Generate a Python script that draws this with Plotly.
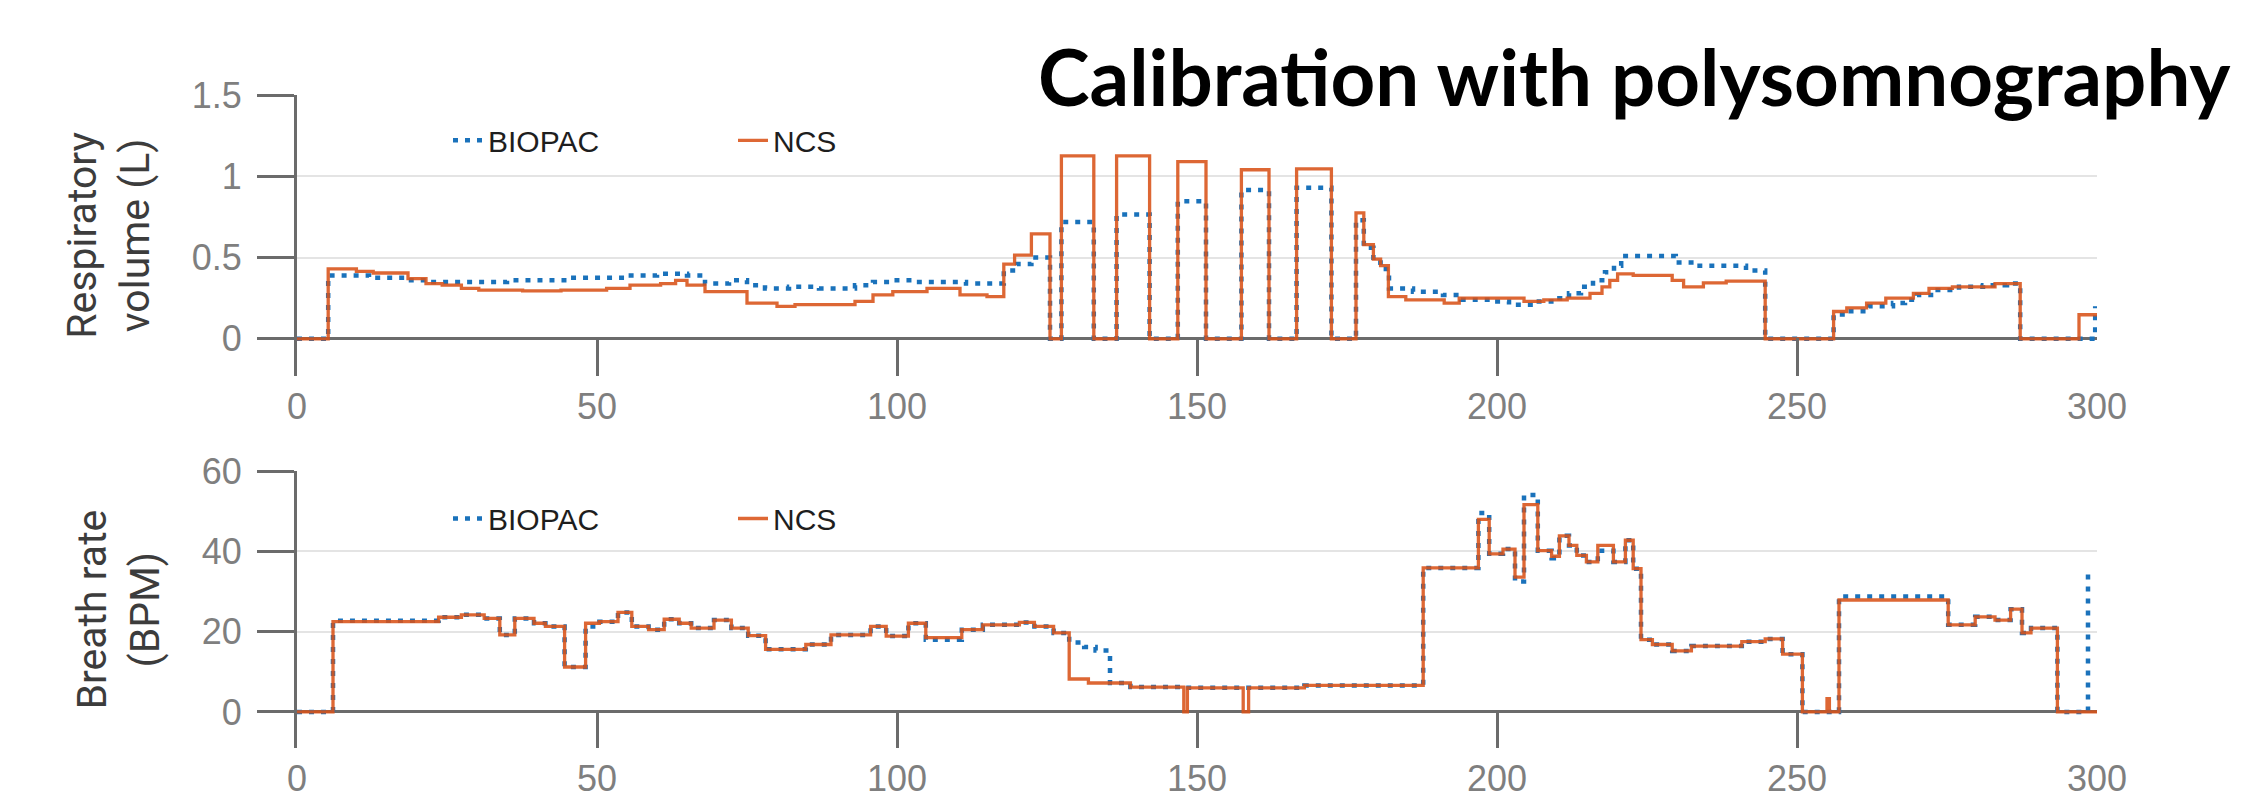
import plotly.graph_objects as go

# ---------------- data ----------------
# Respiratory volume (L), step series: start time (s) and value
ncs_vol_t = [0, 5.2, 9.9, 12.7, 18.5, 21.5, 24.2, 27.4, 30.3, 37.6, 44, 51.6, 55.5, 60.6, 63.1, 65,
             68, 75, 80, 83, 93, 96, 99.3, 105, 110.5, 115, 117.8, 119.6, 122.4, 125.5, 127.4,
             132.8, 136.6, 142.1, 146.8, 151.5, 157.4, 162.0, 166.6, 172.4, 176.5, 177.8, 179.4,
             180.6, 181.9, 184.8, 191.2, 193.7, 204.5, 207.8, 211.7, 215.5, 217.5, 218.8, 220.1,
             222.7, 229.2, 231.1, 234.4, 238.2, 244.7, 256.1, 258.3, 261.6, 264.8, 269.4, 272,
             275.9, 283, 287.2, 297, 300]
ncs_vol = [0, 0.43, 0.415, 0.405, 0.37, 0.34, 0.33, 0.31, 0.30, 0.295, 0.30, 0.31, 0.33, 0.34, 0.36, 0.33,
           0.29, 0.22, 0.20, 0.21, 0.23, 0.27, 0.29, 0.31, 0.27, 0.26, 0.46, 0.515, 0.645, 0, 1.125,
           0, 1.125, 0, 1.09, 0, 1.04, 0, 1.045, 0, 0.775, 0.58, 0.49,
           0.45, 0.26, 0.24, 0.22, 0.25, 0.23, 0.24, 0.25, 0.28, 0.32, 0.36, 0.40,
           0.39, 0.36, 0.32, 0.344, 0.355, 0, 0.168, 0.19, 0.22, 0.25, 0.28, 0.31,
           0.32, 0.34, 0, 0.148, 0.148]

biopac_vol_t = [0, 5.2, 12, 18, 22, 35, 45, 55, 60, 65, 68, 72, 75, 78, 82, 87, 93, 96, 99.3, 103,
                111.5, 117.8, 120, 122.4, 125.5, 127.4, 132.8, 136.6, 142.1, 146.8, 151.5, 157.4,
                162.0, 166.6, 172.4, 176.5, 177.8, 179.4, 180.6, 182, 186, 191, 194, 199.3, 202,
                206.5, 210.4, 212, 214, 216, 218, 219.5, 220.7, 229.8, 233, 241.5, 244.7, 256.1,
                258.5, 262, 266, 268, 270, 273, 277, 281, 285, 287.2, 299.7]
biopac_vol = [0, 0.39, 0.375, 0.36, 0.35, 0.36, 0.375, 0.39, 0.40, 0.39, 0.34, 0.36, 0.33, 0.31, 0.32, 0.31, 0.33, 0.35, 0.36, 0.35,
              0.34, 0.42, 0.46, 0.50, 0, 0.718, 0, 0.765, 0, 0.846, 0, 0.915,
              0, 0.93, 0, 0.73, 0.56, 0.47, 0.43, 0.31, 0.29, 0.27, 0.24, 0.23, 0.21,
              0.23, 0.25, 0.28, 0.32, 0.36, 0.41, 0.45, 0.51, 0.47, 0.45, 0.42, 0, 0.15,
              0.17, 0.20, 0.22, 0.24, 0.27, 0.30, 0.32, 0.33, 0.34, 0, 0.2]

# Breath rate (BPM), step series
ncs_rate_t = [0, 6.0, 23.6, 27.4, 31.2, 33.8, 36.3, 39.5, 41.4, 44.6, 48.1, 50.4, 53.5, 55.8, 58.6,
              61.2, 63.7, 65.7, 69.5, 72.4, 75.2, 78.1, 84.8, 89, 95.6, 98.2, 101.9, 104.8, 110.8,
              114.3, 120.4, 122.9, 126.1, 128.7, 131.9, 138.9, 147.8, 148.4, 157.7, 158.6, 167.9,
              187.7, 196.9, 198.7, 201, 203, 204.5, 206.8, 209.1, 210.4, 212, 213.3, 214.9, 216.8,
              219.4, 221.4, 222.7, 224, 225.9, 229.2, 232.4, 240.8, 244.7, 247.6, 250.9, 255.0,
              255.4, 257.0, 275.2, 279.7, 283, 285.6, 287.5, 289, 293.4, 300]
ncs_rate = [0, 22.5, 23.6, 24.2, 23.3, 19.2, 23.3, 22.1, 21.3, 11.2, 22.1, 22.5, 24.8, 21.3, 20.5,
            23.1, 22.1, 20.9, 22.9, 20.9, 19.0, 15.6, 16.8, 19.2, 21.3, 18.9, 22.1, 18.5, 20.5,
            21.7, 22.3, 21.3, 19.7, 8.2, 7.2, 6.2, 0, 6.0, 0, 6.0, 6.6,
            35.9, 48, 39.4, 40.6, 33.6, 51.7, 40.2, 38.8, 43.9, 41.5, 39, 37.4, 41.5,
            37.4, 42.8, 35.7, 18.0, 16.8, 15.2, 16.4, 17.5, 18.2, 14.4, 0, 3.3,
            0, 27.9, 21.7, 23.7, 22.9, 25.6, 19.7, 20.9, 0, 0]

biopac_rate_t = [0, 6.0, 23.6, 27.4, 31.2, 33.8, 36.3, 39.5, 41.4, 44.6, 48.1, 50.4, 53.5, 55.8, 58.6,
                 61.2, 63.7, 65.7, 69.5, 72.4, 75.2, 78.1, 84.8, 89, 95.6, 98.2, 101.9, 104.8, 110.8,
                 114.3, 120.4, 122.9, 126.1, 128.7, 131.2, 133.1, 135.5, 138.9, 147.8, 167.9,
                 187.7, 196.9, 198.7, 201, 203, 204.5, 206.8, 209.1, 210.4, 212, 213.3, 214.9, 216.8,
                 219.4, 221.4, 222.7, 224, 225.9, 229.2, 232.4, 240.8, 244.7, 247.6, 250.9,
                 257.0, 275.2, 279.7, 283, 285.6, 287.5, 289, 293.4, 298.5]
biopac_rate = [0, 22.7, 23.6, 24.2, 23.3, 19.2, 23.3, 22.1, 21.3, 11.2, 21.3, 22.5, 24.8, 21.3, 20.5,
               23.1, 22.1, 20.9, 22.9, 20.9, 19.0, 15.6, 16.8, 19.2, 21.3, 18.9, 22.1, 18.0, 20.5,
               21.7, 22.3, 21.3, 19.7, 17.3, 16.2, 15.3, 7.2, 6.2, 6.0, 6.6,
               35.9, 49.6, 39.4, 40.6, 32.5, 54.1, 40.2, 38.3, 43.9, 41.5, 39, 37.4, 40.2,
               37.4, 42.8, 35.7, 18.0, 16.8, 15.2, 16.4, 17.5, 18.2, 14.4, 0,
               28.8, 21.7, 23.7, 22.9, 25.6, 19.7, 20.9, 0, 36]

x_ticks = [0, 50, 100, 150, 200, 250, 300]
vol_ticks = [0, 0.5, 1, 1.5]
vol_ticktext = ["0", "0.5", "1", "1.5"]
rate_ticks = [0, 20, 40, 60]

# ---------------- styling ----------------
BLUE = "#1a72bb"
ORANGE = "#d95319"
AXIS = "#6b6b6b"
GRID = "#e4e4e4"
TICKFONT = dict(family="Liberation Sans, Arial, sans-serif", size=36, color="#7f7f7f")
TITLEFONT = dict(family="Roboto, sans-serif", size=41, color="#3c3c3c")
LEGFONT = dict(family="Liberation Sans, Arial, sans-serif", size=30, color="#1e1e1e")
DOT = "5px,7px"

fig = go.Figure()

fig.add_trace(go.Scatter(x=biopac_vol_t, y=biopac_vol, name="BIOPAC", mode="lines",
                         line=dict(color=BLUE, width=4.5, dash=DOT, shape="hv"),
                         xaxis="x", yaxis="y", legend="legend"))
fig.add_trace(go.Scatter(x=ncs_vol_t, y=ncs_vol, name="NCS", mode="lines", opacity=0.88,
                         line=dict(color=ORANGE, width=3.3, shape="hv"),
                         xaxis="x", yaxis="y", legend="legend"))
fig.add_trace(go.Scatter(x=biopac_rate_t, y=biopac_rate, name="BIOPAC", mode="lines",
                         line=dict(color=BLUE, width=4.5, dash=DOT, shape="hv"),
                         xaxis="x2", yaxis="y2", legend="legend2"))
fig.add_trace(go.Scatter(x=ncs_rate_t, y=ncs_rate, name="NCS", mode="lines", opacity=0.88,
                         line=dict(color=ORANGE, width=3.3, shape="hv"),
                         xaxis="x2", yaxis="y2", legend="legend2"))

W, H = 2251, 803
ML, MR, MT, MB = 289, 162, 87, 53
plot_h = H - MT - MB
top_lo = (H - MB - 372) / plot_h
bot_hi = (H - MB - 469) / plot_h

xcommon = dict(range=[0, 300], tickvals=x_ticks, ticks="inside", ticklen=38, tickwidth=3,
               tickcolor=AXIS, showline=False, showgrid=False, zeroline=False,
               tickfont=TICKFONT, ticklabelstandoff=6)
ycommon = dict(ticks="outside", ticklen=37, tickwidth=3, tickcolor=AXIS, showline=True,
               linecolor=AXIS, linewidth=3, showgrid=True, gridcolor=GRID, gridwidth=2,
               zeroline=True, zerolinecolor=AXIS, zerolinewidth=3, tickfont=TICKFONT,
               ticklabelstandoff=8)

fig.update_layout(
    width=W, height=H,
    margin=dict(l=ML, r=MR, t=MT, b=MB, pad=0),
    paper_bgcolor="white", plot_bgcolor="white",
    xaxis=dict(anchor="y", domain=[0, 1], **xcommon),
    xaxis2=dict(anchor="y2", domain=[0, 1], **xcommon),
    yaxis=dict(anchor="x", domain=[top_lo, 1], range=[-0.227, 1.5], tickvals=vol_ticks,
               ticktext=vol_ticktext,
               title=dict(text="Respiratory<br>volume (L)", font=TITLEFONT, standoff=30),
               **ycommon),
    yaxis2=dict(anchor="x2", domain=[0, bot_hi], range=[-9, 60], tickvals=rate_ticks,
                title=dict(text="Breath rate<br>(BPM)", font=TITLEFONT, standoff=30),
                **ycommon),
    legend=dict(orientation="h", x=(440 - ML) / 1800, xanchor="left",
                y=(H - MB - 133) / plot_h, yanchor="middle", font=LEGFONT,
                bgcolor="rgba(0,0,0,0)", entrywidth=240, traceorder="normal"),
    legend2=dict(orientation="h", x=(440 - ML) / 1800, xanchor="left",
                 y=(H - MB - 517) / plot_h, yanchor="middle", font=LEGFONT,
                 bgcolor="rgba(0,0,0,0)", entrywidth=240, traceorder="normal"),
    title=dict(text="<b>Calibration with polysomnography</b>",
               font=dict(family="Lato, sans-serif", size=78, color="black"),
               xref="paper", x=(1030 - ML) / 1800, xanchor="left",
               yref="container", y=1 - 71 / H, yanchor="middle"),
    showlegend=True,
)

fig.write_html("out.html")
